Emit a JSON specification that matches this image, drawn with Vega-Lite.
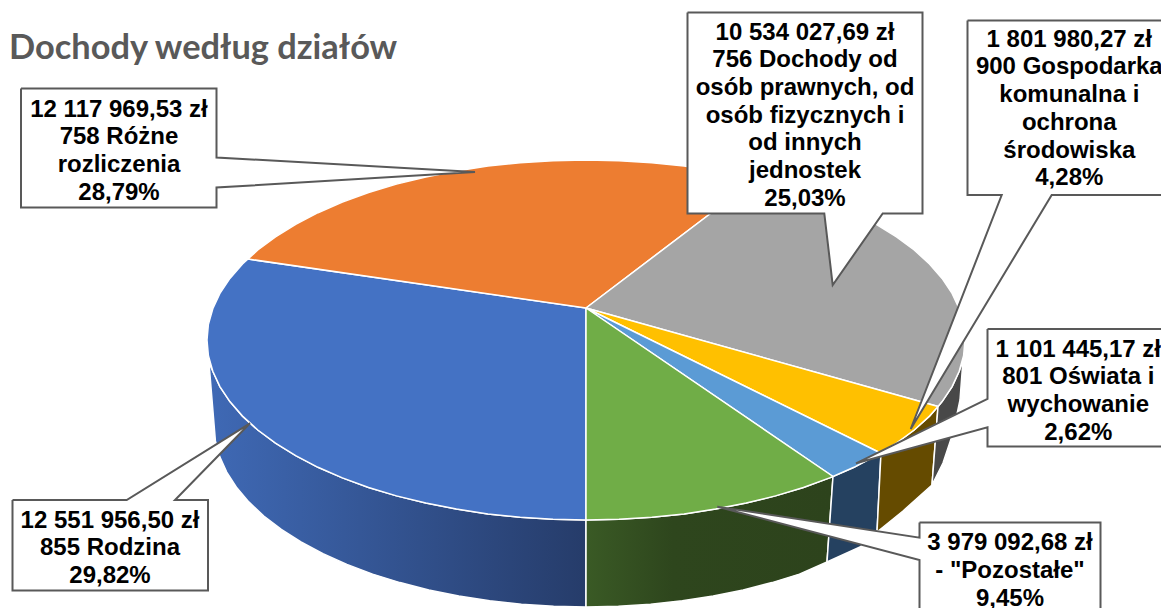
{"$schema":"https://vega.github.io/schema/vega-lite/v6.json","width":1161,"height":608,"padding":0,"autosize":"none","background":"white","view":{"stroke":null},
"encoding":{"x":{"field":"x","type":"quantitative","scale":{"domain":[0,1161],"nice":false,"zero":false},"axis":null},"y":{"field":"y","type":"quantitative","scale":{"domain":[608,0],"nice":false,"zero":false},"axis":null}},
"layer":[
{"data":{"values":[
{"i":0,"x":586,"y":520},{"i":1,"x":553,"y":519.3},{"i":2,"x":520.2,"y":517.3},{"i":3,"x":487.9,"y":513.9},{"i":4,"x":456.4,"y":509.1},{"i":5,"x":425.8,"y":503.1},{"i":6,"x":396.5,"y":495.9},{"i":7,"x":368.6,"y":487.5},{"i":8,"x":342.4,"y":477.9},{"i":9,"x":318,"y":467.3},{"i":10,"x":295.7,"y":455.7},{"i":11,"x":275.5,"y":443.2},{"i":12,"x":257.8,"y":430},{"i":13,"x":242.5,"y":416.1},{"i":14,"x":229.9,"y":401.6},{"i":15,"x":219.9,"y":386.6},{"i":16,"x":212.8,"y":371.3},{"i":17,"x":209,"y":363},{"i":18,"x":215.4,"y":440.9},{"i":19,"x":219.7,"y":456.6},{"i":20,"x":226.7,"y":472.1},{"i":21,"x":236.4,"y":487.2},{"i":22,"x":248.8,"y":501.9},{"i":23,"x":263.8,"y":516},{"i":24,"x":281.3,"y":529.4},{"i":25,"x":301,"y":542},{"i":26,"x":323,"y":553.7},{"i":27,"x":346.9,"y":564.4},{"i":28,"x":372.6,"y":574.1},{"i":29,"x":400,"y":582.6},{"i":30,"x":428.8,"y":589.9},{"i":31,"x":458.8,"y":596},{"i":32,"x":489.7,"y":600.8},{"i":33,"x":521.4,"y":604.2},{"i":34,"x":553.6,"y":606.3},{"i":35,"x":586,"y":607},{"i":36,"x":586,"y":520}]},
"mark":{"type":"line","stroke":"#ffffff","strokeWidth":1.5,"fill":{"gradient":"linear","x1":0,"y1":0,"x2":1,"y2":0,"stops":[{"offset":0,"color":"#3f69b5"},{"offset":1,"color":"#263c6a"}]}},
"encoding":{"order":{"field":"i","type":"quantitative"}}},
{"data":{"values":[
{"i":0,"x":586,"y":520},{"i":1,"x":619,"y":519.3},{"i":2,"x":651.8,"y":517.3},{"i":3,"x":684.1,"y":513.9},{"i":4,"x":715.6,"y":509.1},{"i":5,"x":746.2,"y":503.1},{"i":6,"x":775.5,"y":495.9},{"i":7,"x":803.4,"y":487.5},{"i":8,"x":829.6,"y":477.9},{"i":9,"x":833,"y":476.5},{"i":10,"x":827,"y":562},{"i":11,"x":799.4,"y":574.1},{"i":12,"x":772,"y":582.6},{"i":13,"x":743.2,"y":589.9},{"i":14,"x":713.2,"y":596},{"i":15,"x":682.3,"y":600.8},{"i":16,"x":650.6,"y":604.2},{"i":17,"x":618.4,"y":606.3},{"i":18,"x":586,"y":607},{"i":19,"x":586,"y":520}]},
"mark":{"type":"line","stroke":"#ffffff","strokeWidth":1.5,"fill":{"gradient":"linear","x1":0,"y1":0,"x2":1,"y2":0,"stops":[{"offset":0,"color":"#3a5a25"},{"offset":0.35,"color":"#2e461d"},{"offset":1,"color":"#2d431c"}]}},
"encoding":{"order":{"field":"i","type":"quantitative"}}},
{"data":{"values":[
{"part":"Oświata bok","i":0,"x":833,"y":476.5},{"part":"Oświata bok","i":1,"x":854,"y":467.3},{"part":"Oświata bok","i":2,"x":881,"y":453},{"part":"Oświata bok","i":3,"x":877,"y":532},{"part":"Oświata bok","i":4,"x":860,"y":547},{"part":"Oświata bok","i":5,"x":827,"y":562},{"part":"Oświata bok","i":6,"x":833,"y":476.5},
{"part":"Gospodarka bok","i":0,"x":881,"y":453},{"part":"Gospodarka bok","i":1,"x":896.5,"y":443.2},{"part":"Gospodarka bok","i":2,"x":914.2,"y":430},{"part":"Gospodarka bok","i":3,"x":929.5,"y":416.1},{"part":"Gospodarka bok","i":4,"x":938,"y":406.5},{"part":"Gospodarka bok","i":5,"x":932,"y":485},{"part":"Gospodarka bok","i":6,"x":903,"y":511},{"part":"Gospodarka bok","i":7,"x":877,"y":532},{"part":"Gospodarka bok","i":8,"x":881,"y":453},
{"part":"Dochody bok","i":0,"x":938,"y":406.5},{"part":"Dochody bok","i":1,"x":942.1,"y":401.6},{"part":"Dochody bok","i":2,"x":952.1,"y":386.6},{"part":"Dochody bok","i":3,"x":959.2,"y":371.3},{"part":"Dochody bok","i":4,"x":963,"y":360},{"part":"Dochody bok","i":5,"x":960,"y":400},{"part":"Dochody bok","i":6,"x":953,"y":433},{"part":"Dochody bok","i":7,"x":943,"y":463},{"part":"Dochody bok","i":8,"x":932,"y":485},{"part":"Dochody bok","i":9,"x":938,"y":406.5}]},
"mark":{"type":"line","stroke":"#ffffff","strokeWidth":1.5},
"encoding":{"order":{"field":"i","type":"quantitative"},"fill":{"field":"part","type":"nominal","legend":null,"scale":{"domain":["Oświata bok","Gospodarka bok","Dochody bok","Rodzina","Różne","Dochody","Gospodarka","Oświata","Pozostałe"],"range":["#254160","#654b00","#484848","#4472c4","#ed7d31","#a5a5a5","#ffc000","#5b9bd5","#70ad47"]}}}},
{"data":{"values":[
{"part":"Rodzina","i":0,"x":586,"y":308},{"part":"Rodzina","i":1,"x":586,"y":520},{"part":"Rodzina","i":2,"x":553,"y":519.3},{"part":"Rodzina","i":3,"x":520.2,"y":517.3},{"part":"Rodzina","i":4,"x":487.9,"y":513.9},{"part":"Rodzina","i":5,"x":456.4,"y":509.1},{"part":"Rodzina","i":6,"x":425.8,"y":503.1},{"part":"Rodzina","i":7,"x":396.5,"y":495.9},{"part":"Rodzina","i":8,"x":368.6,"y":487.5},{"part":"Rodzina","i":9,"x":342.4,"y":477.9},{"part":"Rodzina","i":10,"x":318,"y":467.3},{"part":"Rodzina","i":11,"x":295.7,"y":455.7},{"part":"Rodzina","i":12,"x":275.5,"y":443.2},{"part":"Rodzina","i":13,"x":257.8,"y":430},{"part":"Rodzina","i":14,"x":242.5,"y":416.1},{"part":"Rodzina","i":15,"x":229.9,"y":401.6},{"part":"Rodzina","i":16,"x":219.9,"y":386.6},{"part":"Rodzina","i":17,"x":212.8,"y":371.3},{"part":"Rodzina","i":18,"x":208.4,"y":355.7},{"part":"Rodzina","i":19,"x":207,"y":340},{"part":"Rodzina","i":20,"x":208.4,"y":324.3},{"part":"Rodzina","i":21,"x":212.8,"y":308.7},{"part":"Rodzina","i":22,"x":219.9,"y":293.4},{"part":"Rodzina","i":23,"x":229.9,"y":278.4},{"part":"Rodzina","i":24,"x":242.5,"y":263.9},{"part":"Rodzina","i":25,"x":248,"y":259},{"part":"Rodzina","i":26,"x":586,"y":308},
{"part":"Różne","i":0,"x":586,"y":308},{"part":"Różne","i":1,"x":248,"y":259},{"part":"Różne","i":2,"x":257.8,"y":250},{"part":"Różne","i":3,"x":275.5,"y":236.8},{"part":"Różne","i":4,"x":295.7,"y":224.3},{"part":"Różne","i":5,"x":318,"y":212.7},{"part":"Różne","i":6,"x":342.4,"y":202.1},{"part":"Różne","i":7,"x":368.6,"y":192.5},{"part":"Różne","i":8,"x":396.5,"y":184.1},{"part":"Różne","i":9,"x":425.8,"y":176.9},{"part":"Różne","i":10,"x":456.4,"y":170.9},{"part":"Różne","i":11,"x":487.9,"y":166.1},{"part":"Różne","i":12,"x":520.2,"y":162.7},{"part":"Różne","i":13,"x":553,"y":160.7},{"part":"Różne","i":14,"x":586,"y":160},{"part":"Różne","i":15,"x":619,"y":160.7},{"part":"Różne","i":16,"x":651.8,"y":162.7},{"part":"Różne","i":17,"x":684.1,"y":166.1},{"part":"Różne","i":18,"x":715.6,"y":170.9},{"part":"Różne","i":19,"x":746.2,"y":176.9},{"part":"Różne","i":20,"x":756,"y":179},{"part":"Różne","i":21,"x":586,"y":308},
{"part":"Dochody","i":0,"x":586,"y":308},{"part":"Dochody","i":1,"x":756,"y":179},{"part":"Dochody","i":2,"x":775.5,"y":184.1},{"part":"Dochody","i":3,"x":803.4,"y":192.5},{"part":"Dochody","i":4,"x":829.6,"y":202.1},{"part":"Dochody","i":5,"x":854,"y":212.7},{"part":"Dochody","i":6,"x":876.3,"y":224.3},{"part":"Dochody","i":7,"x":896.5,"y":236.8},{"part":"Dochody","i":8,"x":914.2,"y":250},{"part":"Dochody","i":9,"x":929.5,"y":263.9},{"part":"Dochody","i":10,"x":942.1,"y":278.4},{"part":"Dochody","i":11,"x":952.1,"y":293.4},{"part":"Dochody","i":12,"x":959.2,"y":308.7},{"part":"Dochody","i":13,"x":963.6,"y":324.3},{"part":"Dochody","i":14,"x":965,"y":340},{"part":"Dochody","i":15,"x":963.6,"y":355.7},{"part":"Dochody","i":16,"x":959.2,"y":371.3},{"part":"Dochody","i":17,"x":952.1,"y":386.6},{"part":"Dochody","i":18,"x":942.1,"y":401.6},{"part":"Dochody","i":19,"x":938,"y":406.5},{"part":"Dochody","i":20,"x":586,"y":308},
{"part":"Gospodarka","i":0,"x":586,"y":308},{"part":"Gospodarka","i":1,"x":938,"y":406.5},{"part":"Gospodarka","i":2,"x":929.5,"y":416.1},{"part":"Gospodarka","i":3,"x":914.2,"y":430},{"part":"Gospodarka","i":4,"x":896.5,"y":443.2},{"part":"Gospodarka","i":5,"x":880.5,"y":453},{"part":"Gospodarka","i":6,"x":586,"y":308},
{"part":"Oświata","i":0,"x":586,"y":308},{"part":"Oświata","i":1,"x":880.5,"y":453},{"part":"Oświata","i":2,"x":854,"y":467.3},{"part":"Oświata","i":3,"x":833,"y":476.5},{"part":"Oświata","i":4,"x":586,"y":308},
{"part":"Pozostałe","i":0,"x":586,"y":308},{"part":"Pozostałe","i":1,"x":833,"y":476.5},{"part":"Pozostałe","i":2,"x":829.6,"y":477.9},{"part":"Pozostałe","i":3,"x":803.4,"y":487.5},{"part":"Pozostałe","i":4,"x":775.5,"y":495.9},{"part":"Pozostałe","i":5,"x":746.2,"y":503.1},{"part":"Pozostałe","i":6,"x":715.6,"y":509.1},{"part":"Pozostałe","i":7,"x":684.1,"y":513.9},{"part":"Pozostałe","i":8,"x":651.8,"y":517.3},{"part":"Pozostałe","i":9,"x":619,"y":519.3},{"part":"Pozostałe","i":10,"x":586,"y":520},{"part":"Pozostałe","i":11,"x":586,"y":308}]},
"mark":{"type":"line","stroke":"#ffffff","strokeWidth":1.5},
"encoding":{"order":{"field":"i","type":"quantitative"},"fill":{"field":"part","type":"nominal","legend":null,"scale":{"domain":["Oświata bok","Gospodarka bok","Dochody bok","Rodzina","Różne","Dochody","Gospodarka","Oświata","Pozostałe"],"range":["#254160","#654b00","#484848","#4472c4","#ed7d31","#a5a5a5","#ffc000","#5b9bd5","#70ad47"]}}}},
{"data":{"values":[
{"box":"a","i":0,"x":21,"y":88.5},{"box":"a","i":1,"x":216.5,"y":88.5},{"box":"a","i":2,"x":216.5,"y":157.5},{"box":"a","i":3,"x":475,"y":172},{"box":"a","i":4,"x":216.5,"y":187.5},{"box":"a","i":5,"x":216.5,"y":207.5},{"box":"a","i":6,"x":21,"y":207.5},{"box":"a","i":7,"x":21,"y":88.5},
{"box":"b","i":0,"x":687.5,"y":12.5},{"box":"b","i":1,"x":922.5,"y":12.5},{"box":"b","i":2,"x":922.5,"y":213.5},{"box":"b","i":3,"x":882.7,"y":213.5},{"box":"b","i":4,"x":832.7,"y":285},{"box":"b","i":5,"x":824.3,"y":213.5},{"box":"b","i":6,"x":687.5,"y":213.5},{"box":"b","i":7,"x":687.5,"y":12.5},
{"box":"c","i":0,"x":967.5,"y":20.5},{"box":"c","i":1,"x":1175,"y":20.5},{"box":"c","i":2,"x":1175,"y":195},{"box":"c","i":3,"x":1051.7,"y":195},{"box":"c","i":4,"x":910.7,"y":429},{"box":"c","i":5,"x":1001.7,"y":195},{"box":"c","i":6,"x":967.5,"y":195},{"box":"c","i":7,"x":967.5,"y":20.5},
{"box":"d","i":0,"x":987.5,"y":329},{"box":"d","i":1,"x":1175,"y":329},{"box":"d","i":2,"x":1175,"y":446.5},{"box":"d","i":3,"x":987.5,"y":446.5},{"box":"d","i":4,"x":987.5,"y":427.3},{"box":"d","i":5,"x":856,"y":463.3},{"box":"d","i":6,"x":987.5,"y":399},{"box":"d","i":7,"x":987.5,"y":329},
{"box":"e","i":0,"x":919.5,"y":522.5},{"box":"e","i":1,"x":1100.5,"y":522.5},{"box":"e","i":2,"x":1100.5,"y":625},{"box":"e","i":3,"x":919.5,"y":625},{"box":"e","i":4,"x":919.5,"y":560},{"box":"e","i":5,"x":717.3,"y":506.7},{"box":"e","i":6,"x":919.5,"y":537.7},{"box":"e","i":7,"x":919.5,"y":522.5},
{"box":"f","i":0,"x":12.5,"y":500},{"box":"f","i":1,"x":126.7,"y":500},{"box":"f","i":2,"x":250,"y":423.3},{"box":"f","i":3,"x":175,"y":500},{"box":"f","i":4,"x":208,"y":500},{"box":"f","i":5,"x":208,"y":590.5},{"box":"f","i":6,"x":12.5,"y":590.5},{"box":"f","i":7,"x":12.5,"y":500}]},
"mark":{"type":"line","stroke":"#595959","strokeWidth":2,"fill":"#ffffff","strokeJoin":"miter"},
"encoding":{"order":{"field":"i","type":"quantitative"},"detail":{"field":"box","type":"nominal"}}},
{"data":{"values":[
{"label":"12 117 969,53 zł\n758 Różne\nrozliczenia\n28,79%","x":119,"y":109.5},
{"label":"10 534 027,69 zł\n756 Dochody od\nosób prawnych, od\nosób fizycznych i\nod innych\njednostek\n25,03%","x":805,"y":32.5},
{"label":"1 801 980,27 zł\n900 Gospodarka\nkomunalna i\nochrona\nśrodowiska\n4,28%","x":1069.3,"y":39.8},
{"label":"1 101 445,17 zł\n801 Oświata i\nwychowanie\n2,62%","x":1078.3,"y":349.8},
{"label":"3 979 092,68 zł\n- \"Pozostałe\"\n9,45%","x":1010,"y":543.2},
{"label":"12 551 956,50 zł\n855 Rodzina\n29,82%","x":110,"y":520.8}]},
"mark":{"type":"text","font":"Liberation Sans","fontWeight":"bold","fontSize":24,"lineHeight":27.7,"lineBreak":"\n","align":"center","baseline":"middle","color":"#000000"},
"encoding":{"text":{"field":"label","type":"nominal"}}},
{"data":{"values":[{"title":"Dochody według działów","x":9,"y":49}]},
"mark":{"type":"text","font":"Lato","fontWeight":"bold","fontSize":34.4,"align":"left","baseline":"middle","color":"#595959"},
"encoding":{"text":{"field":"title","type":"nominal"}}}
]}
